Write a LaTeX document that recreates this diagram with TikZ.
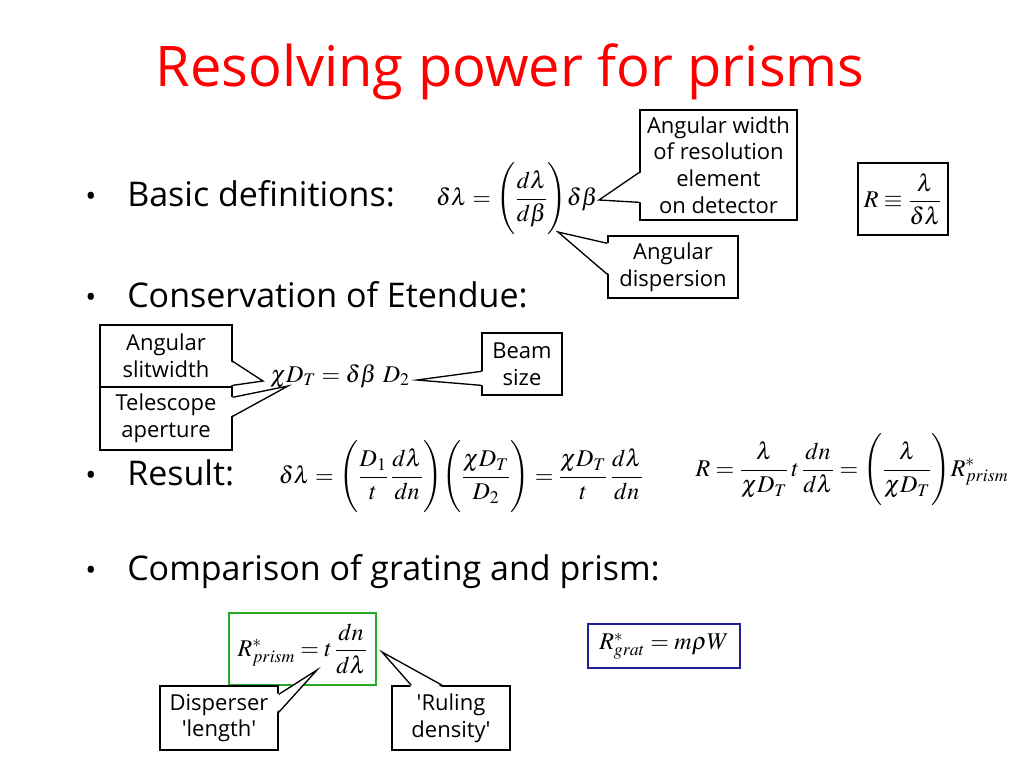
\documentclass[tikz,border=0pt]{standalone}
\usepackage{mathptmx}
\usepackage{fontspec}
\setmainfont{Open Sans}
\usetikzlibrary{calc}
\definecolor{titlered}{RGB}{255,0,0}
\definecolor{boxgreen}{RGB}{40,170,40}
\definecolor{boxblue}{RGB}{30,30,150}
\newcommand{\tallL}{\left(\vcenter{\vbox to 56pt{}}}
\newcommand{\tallR}{\vcenter{\vbox to 56pt{}}\right)}
\tikzset{
  titletext/.style={font=\fontsize{42}{48}\selectfont, text=titlered, inner sep=0pt, anchor=base},
  bullettext/.style={font=\fontsize{25.5}{30}\selectfont, inner sep=0pt, anchor=base west},
  bulletdot/.style={font=\fontsize{22}{26}\selectfont, inner sep=0pt, anchor=base},
  eqn/.style={font=\fontsize{18}{21}\selectfont, inner sep=0pt},
  callbox/.style={draw, line width=1pt, fill=white, inner sep=0pt, align=center,
    font=\fontsize{16.5}{20}\selectfont},
  ptrfill/.style={fill=white, draw=none},
  ptrline/.style={line width=1pt, line join=miter},
}
\begin{document}
\begin{tikzpicture}[x=0.75pt,y=-0.75pt]
\useasboundingbox (0,0) rectangle (1024,768);
% title
\node[titletext] (title) at (510,86) {Resolving power for prisms};
% bullets
\node[bulletdot] (d1) at (91,206) {•};
\node[bullettext] (b1) at (127,206) {Basic definitions:};
\node[bulletdot] (d2) at (91,307) {•};
\node[bullettext] (b2) at (127,307) {Conservation of Etendue:};
\node[bulletdot] (d3) at (91,485) {•};
\node[bullettext] (b3) at (127,485) {Result:};
\node[bulletdot] (d4) at (91,580) {•};
\node[bullettext] (b4) at (127,580) {Comparison of grating and prism:};
% equations
\node[eqn] (e1) at (517,199) {$\displaystyle \delta\lambda = \tallL\frac{d\lambda}{d\beta}\tallR\!\delta\beta$};
\node[eqn, draw, line width=0.9pt, minimum width=90*0.75pt, minimum height=72*0.75pt] (eR) at (903,199) {$\displaystyle R \equiv \frac{\lambda}{\delta\lambda}$};
\node[eqn] (e2) at (340,376) {$\chi D_T = \delta\beta\ D_2$};
\node[eqn] (e3) at (461,477) {$\displaystyle \delta\lambda = \tallL\frac{D_1}{t}\,\frac{d\lambda}{dn}\tallR\!\tallL\frac{\chi D_T}{D_2}\tallR = \frac{\chi D_T}{t}\,\frac{d\lambda}{dn}$};
\node[eqn] (e4) at (852,470) {$\displaystyle R = \frac{\lambda}{\chi D_T}\,t\,\frac{dn}{d\lambda} = \tallL\frac{\lambda}{\chi D_T}\tallR\! R^{*}_{prism}$};
\node[eqn, draw=boxgreen, line width=0.9pt, minimum width=147*0.75pt, minimum height=72*0.75pt] (eP) at (302.5,649) {$\displaystyle R^{*}_{prism} = t\,\frac{dn}{d\lambda}$};
\node[eqn, draw=boxblue, line width=0.9pt, minimum width=152*0.75pt, minimum height=44*0.75pt] (eG) at (664,646) {$R^{*}_{grat} = m\rho W$};
% callouts
\node[callbox, minimum width=157*0.75pt, minimum height=110*0.75pt] (cW) at (718.5,165) {Angular width\\of resolution\\element\\on detector};
\coordinate (tW) at (599,200);
\coordinate (aW) at ($(cW.north west)+(0,63)$);
\coordinate (bW) at ($(cW.north west)+(0,93)$);
\fill[ptrfill] ($(aW)+(2,0)$) -- (tW) -- ($(bW)+(2,0)$) -- cycle;
\draw[ptrline] (aW) -- (tW) -- (bW);

\node[callbox, minimum width=130*0.75pt, minimum height=62*0.75pt] (cD) at (673,267) {Angular\\dispersion};
\coordinate (tD) at (558,232);
\coordinate (aD) at ($(cD.north west)+(0,8)$);
\coordinate (bD) at ($(cD.north west)+(0,39)$);
\fill[ptrfill] ($(aD)+(2,0)$) -- (tD) -- ($(bD)+(2,0)$) -- cycle;
\draw[ptrline] (aD) -- (tD) -- (bD);

\node[callbox, minimum width=132*0.75pt, minimum height=62*0.75pt] (cS) at (166,356) {Angular\\slitwidth};
\node[callbox, minimum width=132*0.75pt, minimum height=63*0.75pt] (cT) at (166,418.5) {Telescope\\aperture};
\coordinate (tS) at (263,381);
\coordinate (aS) at ($(cS.north east)+(0,37)$);
\coordinate (bS) at ($(cS.north east)+(0,61)$);
\fill[ptrfill] ($(aS)+(-2,0)$) -- (tS) -- ($(bS)+(-2,0)$) -- cycle;
\draw[ptrline] (aS) -- (tS) -- (bS);
\coordinate (tT) at (288,386);
\coordinate (aT) at ($(cT.north east)+(0,11)$);
\coordinate (bT) at ($(cT.north east)+(0,30)$);
\fill[ptrfill] ($(aT)+(-2,0)$) -- (tT) -- ($(bT)+(-2,0)$) -- cycle;
\draw[ptrline] (aT) -- (tT) -- (bT);

\node[callbox, minimum width=80*0.75pt, minimum height=62*0.75pt] (cB) at (522,364) {Beam\\size};
\coordinate (tB) at (417,380);
\coordinate (aB) at ($(cB.north west)+(0,39)$);
\coordinate (bB) at ($(cB.north west)+(0,53)$);
\fill[ptrfill] ($(aB)+(2,0)$) -- (tB) -- ($(bB)+(2,0)$) -- cycle;
\draw[ptrline] (aB) -- (tB) -- (bB);

\node[callbox, minimum width=118*0.75pt, minimum height=64*0.75pt] (cL) at (219,718) {Disperser\\\textquotesingle length\textquotesingle};
\coordinate (tL) at (317,670);
\coordinate (aL) at ($(cL.north east)+(0,9)$);
\coordinate (bL) at ($(cL.north east)+(0,27)$);
\fill[ptrfill] ($(aL)+(-2,0)$) -- (tL) -- ($(bL)+(-2,0)$) -- cycle;
\draw[ptrline] (aL) -- (tL) -- (bL);

\node[callbox, minimum width=118*0.75pt, minimum height=64*0.75pt] (cR) at (451,718) {\textquotesingle Ruling\\density\textquotesingle};
\coordinate (tR) at (382,652);
\coordinate (aR) at ($(cR.north west)+(20,0)$);
\coordinate (bR) at ($(cR.north west)+(51,0)$);
\fill[ptrfill] ($(aR)+(0,2)$) -- (tR) -- ($(bR)+(0,2)$) -- cycle;
\draw[ptrline] (aR) -- (tR) -- (bR);
\end{tikzpicture}
\end{document}
